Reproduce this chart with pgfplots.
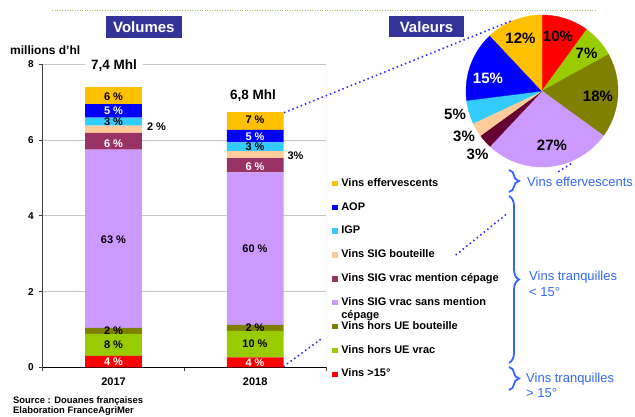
\documentclass[border=0pt]{standalone}
\usepackage{fontspec}
\setmainfont{Liberation Sans}
\usepackage{pgfplots}
\pgfplotsset{compat=1.18}
\usetikzlibrary{decorations.pathreplacing}
\definecolor{cYel}{HTML}{FFC000}
\definecolor{cBlue}{HTML}{0000FF}
\definecolor{cLB}{HTML}{33CCFF}
\definecolor{cPeach}{HTML}{FFCC99}
\definecolor{cMar}{HTML}{993366}
\definecolor{cMarD}{HTML}{660033}
\definecolor{cLav}{HTML}{CC99FF}
\definecolor{cOlive}{HTML}{808000}
\definecolor{cGreen}{HTML}{99CC00}
\definecolor{cRed}{HTML}{FF0000}
\definecolor{navy}{HTML}{333399}
\definecolor{brc}{HTML}{3366FF}
\definecolor{dotb}{HTML}{2B2BFF}
\definecolor{topg}{HTML}{99CC66}
\def\curang{90}
\newcommand{\pieslice}[2]{%
  \pgfmathsetmacro\angA{\curang-3.6*#1}%
  \edef\doslice{\noexpand\addplot[fill=#2, draw=#2, line width=0.3pt, domain=\angA:\curang, samples=40]}%
  \xdef\curang{\angA}%
  \doslice ({cos(x)},{sin(x)}) -- (0,0) -- cycle;%
}
\newcommand{\lbf}{\bfseries\fontsize{11}{13}\selectfont}
\newcommand{\pf}{\bfseries\fontsize{15}{18}\selectfont}
\begin{document}
\begin{tikzpicture}[x=1pt,y=1pt]
\useasboundingbox (0,0) rectangle (635,416);
\begin{axis}[
  at={(42.7pt,48.7pt)}, anchor=south west,
  scale only axis, width=283.3pt, height=303pt,
  xmin=-0.5, xmax=1.5, ymin=0, ymax=8,
  axis x line*=bottom, axis y line*=left,
  x axis line style={black, line width=1pt},
  y axis line style={black!75, line width=1pt},
  ytick={0,2,4,6,8},
  xtick={-0.5,0.5,1.5}, xticklabels={,,},
  extra x ticks={0,1}, extra x tick labels={2017,2018},
  extra x tick style={major tick length=0pt, grid=none},
  tick align=outside, major tick length=4pt,
  tick style={black!75, line width=0.8pt},
  ymajorgrids, grid style={gray!45, line width=0.8pt},
  yticklabel style={font=\bfseries\fontsize{10}{12}\selectfont, xshift=-1.5pt},
  xticklabel style={font=\bfseries\fontsize{11}{13}\selectfont, yshift=-6.5pt},
  /pgf/number format/assume math mode=true,
  ybar stacked, bar width=56.7pt,
  reverse legend,
  legend cell align=left,
  legend image code/.code={\fill[#1] (0pt,-2.7pt) rectangle (5.4pt,2.7pt);},
  legend style={at={(1.0106,0.6314)}, anchor=north west, draw=none, fill=white,
    inner xsep=3pt, inner ysep=2pt, font=\bfseries\fontsize{11}{13}\selectfont,
    row sep=13.35pt, column sep=3.7pt,
    nodes={inner sep=0pt, text height=8pt, text depth=2.5pt}},
]
\addplot[fill=cRed, draw=none] coordinates {(0,0.30) (1,0.26)};
\addlegendentry{Vins >15°}
\addplot[fill=cGreen, draw=none] coordinates {(0,0.58) (1,0.70)};
\addlegendentry{Vins hors UE vrac}
\addplot[fill=cOlive, draw=none] coordinates {(0,0.16) (1,0.16)};
\addlegendentry{Vins hors UE bouteille}
\addplot[fill=cLav, draw=none] coordinates {(0,4.71) (1,4.03)};
\addlegendentry{\vtop{\hbox{Vins SIG vrac sans mention}\hbox{cépage}}}
\addplot[fill=cMar, draw=none] coordinates {(0,0.44) (1,0.37)};
\addlegendentry{Vins SIG vrac mention cépage}
\addplot[fill=cPeach, draw=none] coordinates {(0,0.19) (1,0.19)};
\addlegendentry{Vins SIG bouteille}
\addplot[fill=cLB, draw=none] coordinates {(0,0.21) (1,0.23)};
\addlegendentry{IGP}
\addplot[fill=cBlue, draw=none] coordinates {(0,0.36) (1,0.33)};
\addlegendentry{AOP}
\addplot[fill=cYel, draw=none] coordinates {(0,0.45) (1,0.47)};
\addlegendentry{Vins effervescents}
\draw[gray!45, line width=0.8pt] (rel axis cs:1,0) -- (rel axis cs:1,1);
\end{axis}
\begin{axis}[at={(542pt,325pt)}, anchor=center, scale only axis, width=152pt, height=152pt,
  xmin=-1, xmax=1, ymin=-1, ymax=1, hide axis, clip=false]
\pieslice{10}{cRed}
\pieslice{7}{cGreen}
\pieslice{18}{cOlive}
\pieslice{27}{cLav}
\pieslice{3}{cMarD}
\pieslice{3}{cPeach}
\pieslice{5}{cLB}
\pieslice{15}{cBlue}
\pieslice{12}{cYel}
\end{axis}
% top dotted line
\draw[topg, line width=1pt, dash pattern=on 1pt off 1.5pt] (52,416-11) -- (597,416-11);
% title boxes
\node[fill=navy, text=white, font=\pf, minimum width=75.7pt, minimum height=21.7pt, inner sep=0pt] at (143.85,416-26.85) {Volumes};
\node[fill=navy, text=white, font=\pf, minimum width=75pt, minimum height=21.5pt, inner sep=0pt] at (426.5,416-26.75) {Valeurs};
\node[anchor=west, inner sep=0pt, font=\bfseries\fontsize{12}{14}\selectfont] at (10,416-50) {millions d'hl};
% totals
\node[fill=white, inner xsep=6pt, inner ysep=1pt, font=\bfseries\fontsize{13.5}{16}\selectfont] at (114,416-66) {7,4 Mhl};
\node[inner sep=0pt, font=\bfseries\fontsize{13.5}{16}\selectfont] at (253,416-95.7) {6,8 Mhl};
% bar labels 2017
\begin{scope}[every node/.style={inner sep=0pt, font=\lbf}]
\node at (113.5,416-96.7) {6 \%};
\node[text=white] at (113.5,416-111) {5 \%};
\node at (113.5,416-121.7) {3 \%};
\node at (156.5,416-127) {2 \%};
\node[text=white] at (113.5,416-143.3) {6 \%};
\node at (113.5,416-239.3) {63 \%};
\node at (113.5,416-331) {2 \%};
\node at (113.5,416-345) {8 \%};
\node[text=white] at (113.5,416-362) {4 \%};
% 2018
\node at (255,416-120) {7 \%};
\node[text=white] at (255,416-136.3) {5 \%};
\node at (255,416-146.7) {3 \%};
\node at (295.5,416-156) {3\%};
\node[text=white] at (255,416-166.7) {6 \%};
\node at (255,416-249) {60 \%};
\node at (255,416-327.7) {2 \%};
\node at (255,416-344) {10 \%};
\node[text=white] at (255,416-363) {4 \%};
\end{scope}
% pie labels
\begin{scope}[every node/.style={inner sep=0pt, font=\pf}]
\node at (558,416-36) {10\%};
\node at (586.5,416-53.3) {7\%};
\node at (598,416-96.7) {18\%};
\node at (552,416-145.7) {27\%};
\node at (477.5,416-154.3) {3\%};
\node at (464,416-136.7) {3\%};
\node at (455,416-114.3) {5\%};
\node[text=white] at (488,416-78.3) {15\%};
\node at (520.5,416-38.3) {12\%};
\end{scope}
% dotted connectors
\begin{scope}[dotb, line width=1.6pt, dash pattern=on 1.5pt off 3pt]
\draw (284,416-112.7) -- (513.3,416-20);
\draw (283.3,416-366.7) -- (320.7,416-339.3);
\draw (455.7,416-255) -- (506.7,416-214);
\draw (558.3,416-171.7) -- (571.7,416-163.3);
\end{scope}
% braces
\begin{scope}[brc, line width=1.8pt]
\draw[decorate, decoration={brace, amplitude=10pt}] (509,416-170) -- (509,416-192);
\draw[decorate, decoration={brace, amplitude=10pt}] (509,416-196) -- (509,416-363);
\draw[decorate, decoration={brace, amplitude=10pt}] (509,416-367) -- (509,416-390);
\end{scope}
\begin{scope}[every node/.style={anchor=west, inner sep=0pt, text=brc, font=\fontsize{13}{15}\selectfont}]
\node at (527,416-182) {Vins effervescents};
\node at (529,416-277) {Vins tranquilles};
\node at (529,416-292.5) {< 15°};
\node at (526,416-379) {Vins tranquilles};
\node at (526,416-393.5) {> 15°};
\end{scope}
% source
\node[anchor=base west, inner sep=0pt, font=\bfseries\fontsize{9.4}{11}\selectfont] at (13,416-403) {Source : Douanes françaises};
\node[anchor=base west, inner sep=0pt, font=\bfseries\fontsize{9.4}{11}\selectfont] at (13,416-413) {Elaboration FranceAgriMer};
\end{tikzpicture}
\end{document}
